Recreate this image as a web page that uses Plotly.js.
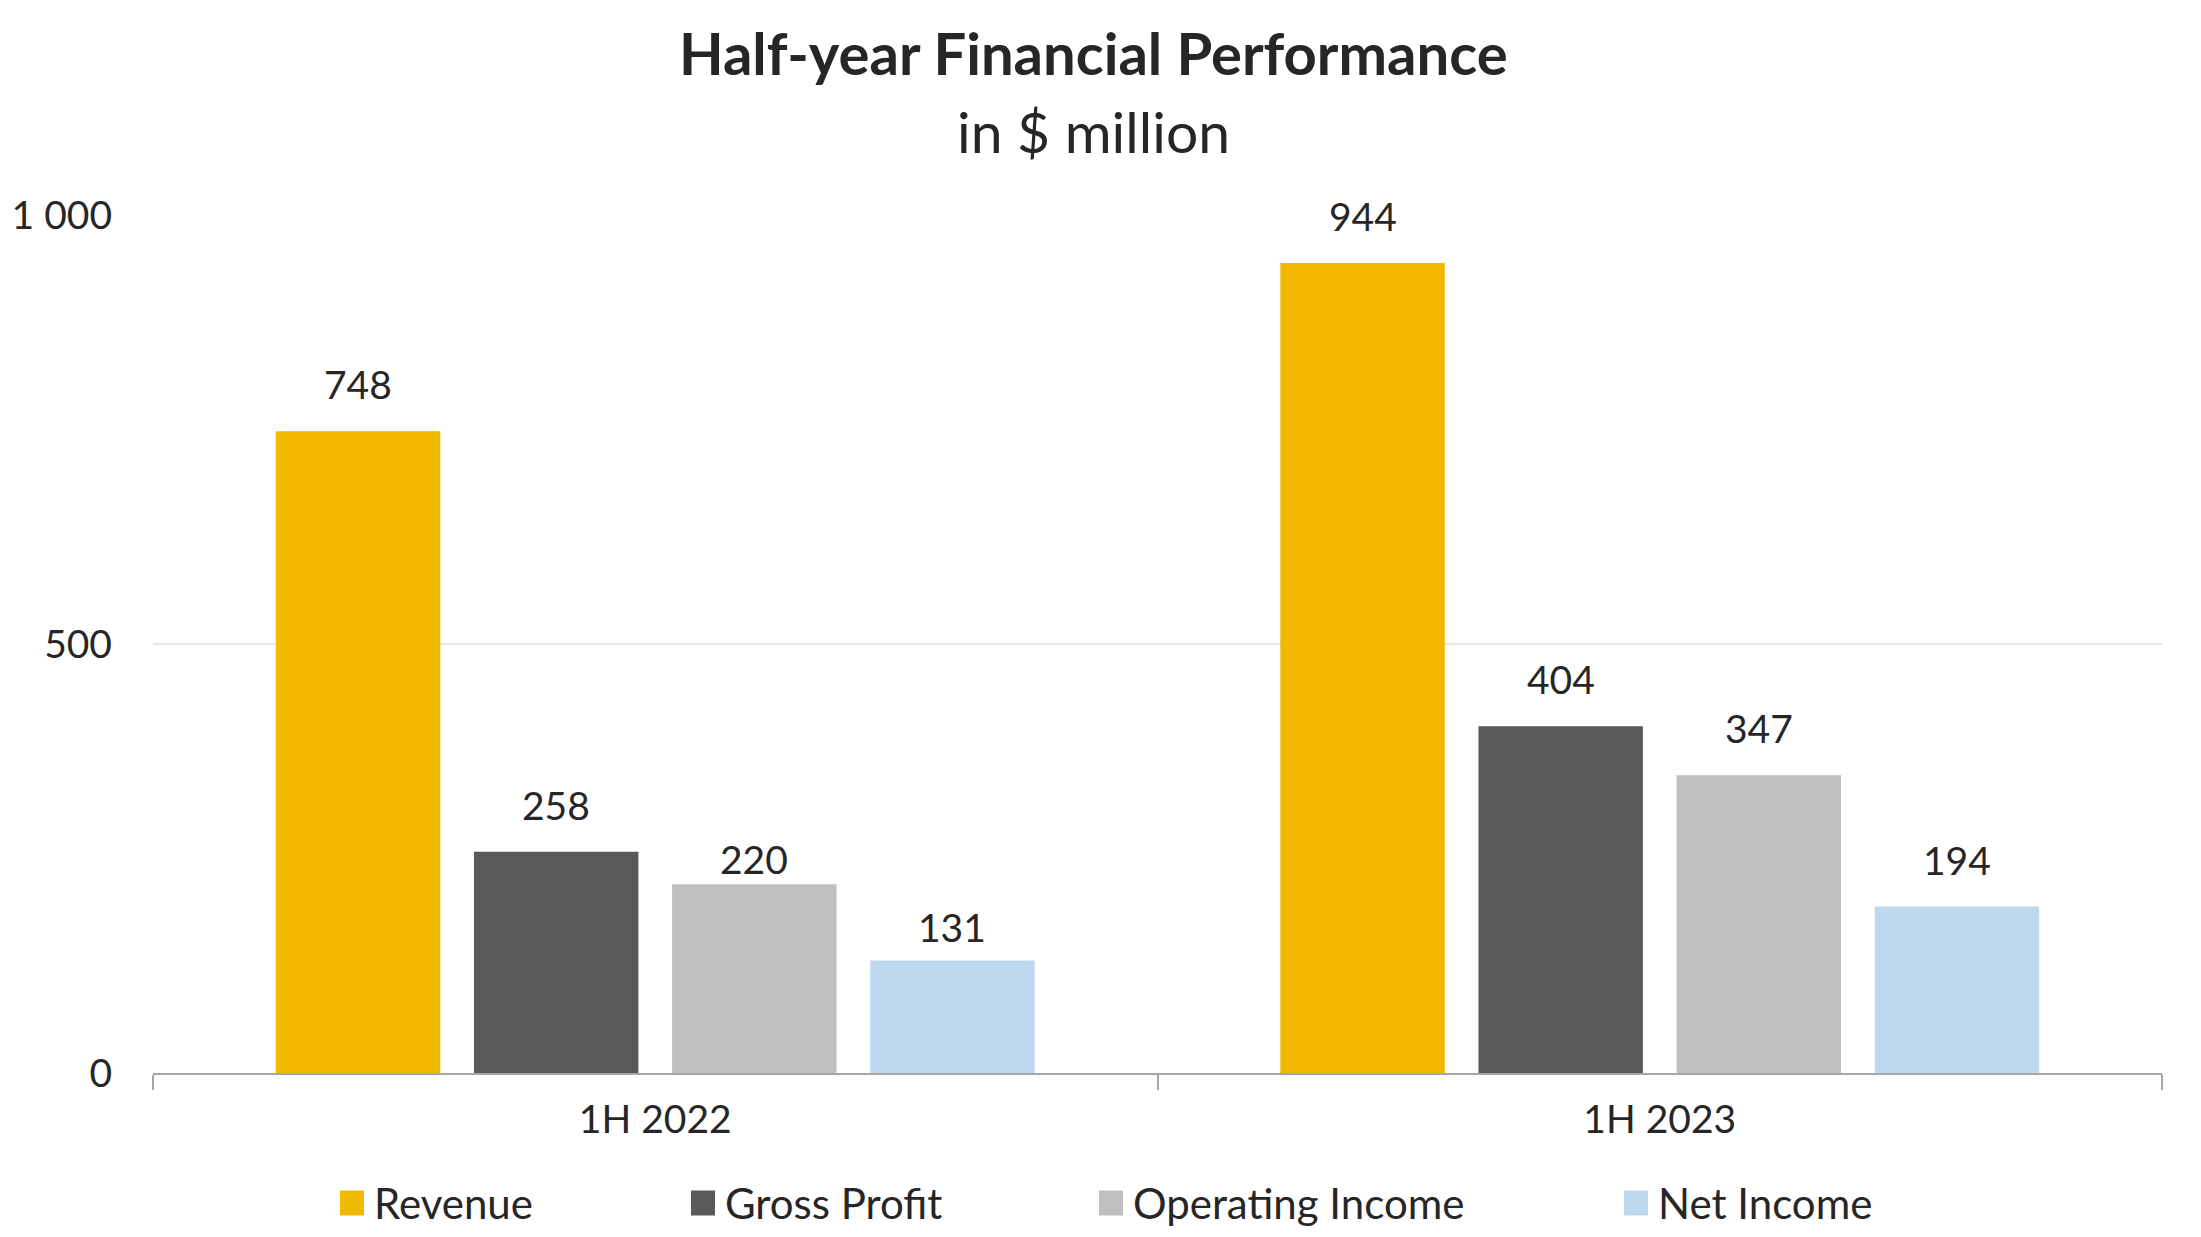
<!DOCTYPE html>
<html>
<head>
<meta charset="utf-8">
<script src="https://cdn.plot.ly/plotly-3.0.1.min.js"></script>
<style>html,body{margin:0;padding:0;background:#fff;}#chart{width:2201px;height:1237px;}</style>
</head>
<body>
<div id="chart"></div>
<script>
const categories = ['1H 2022', '1H 2023'];
const seriesNames = ['Revenue', 'Gross Profit', 'Operating Income', 'Net Income'];
const revenue = [748, 944];
const grossProfit = [258, 404];
const operatingIncome = [220, 347];
const netIncome = [131, 194];
const seriesValues = [revenue, grossProfit, operatingIncome, netIncome];
const colors = ['#F2B800', '#595959', '#BFBFBF', '#BDD7EE'];
const titleText = 'Half-year Financial Performance';
const subtitleText = 'in $ million';

const W = 2201, H = 1237;
const M = {l: 153, r: 39, t: 215, b: 164};
const plotW = W - M.l - M.r, plotH = H - M.t - M.b;
const yMax = 1000;
const bargap = 0.211, bargroupgap = 0.17;
const px = x => (x - M.l) / plotW;
const py = y => (H - M.b - y) / plotH;
const FONT = 'Lato, "Open Sans", sans-serif';
const TXT = '#262626';
// per-label vertical offset (px) of the data labels, [series][category]
const labelShift = [[22, 22], [22, 22], [0, 22], [9, 22]];

const traces = seriesNames.map((name, i) => ({
  type: 'bar', name: name, x: categories, y: seriesValues[i],
  marker: {color: colors[i], line: {width: 0}},
  hoverinfo: 'x+y+name', showlegend: false
}));

// data labels above bars (annotations offset by group slot)
const catW = plotW / categories.length;
const slot = catW * (1 - bargap) / seriesNames.length;
const annotations = [];
seriesNames.forEach((name, i) => {
  seriesValues[i].forEach((v, j) => {
    annotations.push({
      x: categories[j], y: v, xref: 'x', yref: 'y',
      xshift: (i - (seriesNames.length - 1) / 2) * slot,
      yshift: labelShift[i][j], yanchor: 'bottom', showarrow: false,
      text: String(v), font: {family: FONT, size: 39, color: TXT}
    });
  });
});

// title lines
annotations.push({xref: 'paper', yref: 'paper', x: px(1093), y: py(52), xanchor: 'center', yanchor: 'middle',
  showarrow: false, text: '<b>' + titleText + '</b>', font: {family: FONT, size: 58, color: TXT}});
annotations.push({xref: 'paper', yref: 'paper', x: px(1093), y: py(131), xanchor: 'center', yanchor: 'middle',
  showarrow: false, text: subtitleText, font: {family: FONT, size: 57, color: TXT}});

// legend
const legendSquareX = [340, 691, 1099, 1624];
const legendY = 1203;
const shapes = [];
seriesNames.forEach((name, i) => {
  shapes.push({type: 'rect', xref: 'paper', yref: 'paper',
    x0: px(legendSquareX[i]), x1: px(legendSquareX[i] + 24),
    y0: py(legendY - 12.5), y1: py(legendY + 12.5),
    fillcolor: colors[i], line: {width: 0}});
  annotations.push({xref: 'paper', yref: 'paper', x: px(legendSquareX[i] + 32), y: py(legendY),
    xanchor: 'left', yanchor: 'middle', showarrow: false, text: name,
    font: {family: FONT, size: 42, color: TXT}});
});

const layout = {
  width: W, height: H,
  margin: M,
  paper_bgcolor: '#ffffff', plot_bgcolor: '#ffffff',
  font: {family: FONT, color: TXT, size: 39},
  separators: '. ',
  barmode: 'group', bargap: bargap, bargroupgap: bargroupgap,
  showlegend: false,
  xaxis: {
    type: 'category', showline: true, linecolor: '#A6A6A6', linewidth: 2,
    ticks: 'outside', tickson: 'boundaries', ticklen: 15, tickwidth: 2, tickcolor: '#A6A6A6',
    ticklabelstandoff: 11,
    tickfont: {family: FONT, size: 39, color: TXT}, showgrid: false, zeroline: false,
    fixedrange: true
  },
  yaxis: {
    range: [0, yMax], dtick: 500, tickformat: ',d', showline: false, zeroline: false,
    gridcolor: '#E6E6E6', gridwidth: 2, ticks: '', ticklabelstandoff: 40,
    tickfont: {family: FONT, size: 39, color: TXT}, fixedrange: true
  },
  annotations: annotations,
  shapes: shapes
};

Plotly.newPlot('chart', traces, layout, {displayModeBar: false, staticPlot: true});
</script>
</body>
</html>
